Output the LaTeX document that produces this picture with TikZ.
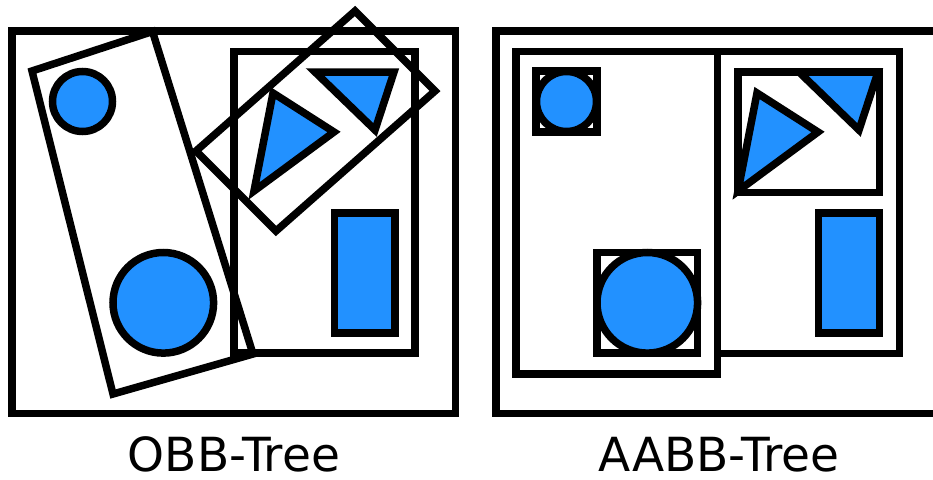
\documentclass[tikz,border=0pt]{standalone}
\usepackage{fontspec}
\setmainfont{DejaVu Sans}
\definecolor{shapeblue}{RGB}{34,145,255}
\begin{document}
\begin{tikzpicture}[x=1pt,y=-1pt,
  bv/.style={draw=black,line width=7.5pt,line join=miter},
  obj/.style={bv,fill=shapeblue},
  lbl/.style={font=\fontsize{47}{50}\selectfont,anchor=base,inner sep=0pt}]
\useasboundingbox (0,0) rectangle (933,479);
\clip (0,0) rectangle (933,479);
% ---------- OBB-Tree ----------
\draw[bv] (12,31) rectangle (455.5,413.5);
\draw[bv] (32,71) -- (152.5,31.5) -- (253,354) -- (113,394) -- cycle;
\draw[bv] (234,51.5) rectangle (415,353);
\draw[bv] (355,11) -- (435,91) -- (276,231) -- (196,151) -- cycle;
\draw[obj] (82.5,101.5) circle (30);
\draw[obj] (163.3,302.8) circle (50.3);
\draw[obj] (334.5,213) rectangle (395,333);
\draw[obj] (273,93) -- (334,132) -- (254,191) -- cycle;
\draw[obj] (315,72) -- (394,72) -- (375,130) -- cycle;
\node[lbl] (obb) at (234,471) {OBB-Tree};
% ---------- AABB-Tree ----------
\begin{scope}[xshift=484pt]
\draw[bv] (12,31) rectangle (455.5,413.5);
\draw[bv] (32,51.5) rectangle (233.5,374);
\draw[bv] (233.5,51.5) rectangle (415.5,353.5);
\draw[bv] (52,71) rectangle (113,132);
\draw[bv] (113,252.5) rectangle (213.6,353.1);
\draw[bv] (254,72) rectangle (395.5,192.5);
\draw[obj] (82.5,101.5) circle (30);
\draw[obj] (163.3,302.8) circle (50.3);
\draw[obj] (334.5,213) rectangle (395.5,333);
\draw[obj] (273,93) -- (334,132) -- (254,191) -- cycle;
\draw[obj] (315,72) -- (394,72) -- (375,130) -- cycle;
\end{scope}
\node[lbl] (aabb) at (719,471) {AABB-Tree};
\end{tikzpicture}
\end{document}
